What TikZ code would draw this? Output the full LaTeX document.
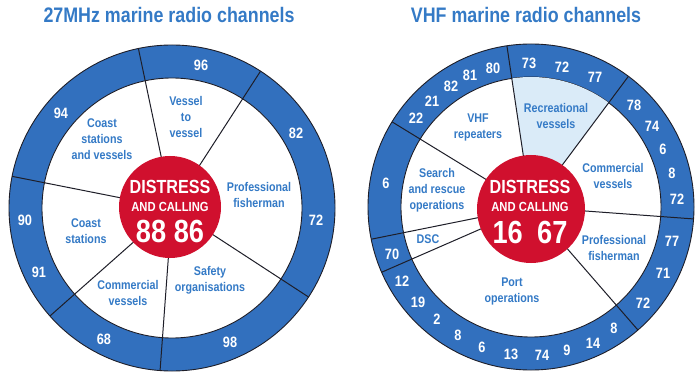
\documentclass[tikz,border=0pt]{standalone}
\usepackage{fontspec}
\newfontfamily\cf[FakeStretch=0.85]{Liberation Sans}
\definecolor{ringblue}{RGB}{50,112,190}
\definecolor{labblue}{RGB}{52,122,198}
\definecolor{dred}{RGB}{208,16,46}
\definecolor{lblue}{RGB}{218,235,248}
\definecolor{edgec}{RGB}{30,30,40}
\tikzset{
  ringnum/.style={font=\cf\bfseries\fontsize{15}{15}\selectfont, text=white, inner sep=0pt},
  lab/.style={font=\cf\bfseries\fontsize{12.6}{16}\selectfont, text=labblue, align=center, inner sep=0pt},
  ttl/.style={font=\cf\bfseries\fontsize{21}{22}\selectfont, text=labblue, inner sep=0pt},
  bigw/.style={text=white, inner sep=0pt},
  divider/.style={draw=edgec, line width=1pt},
  rim/.style={draw=edgec, line width=0.9pt}
}
\begin{document}
\begin{tikzpicture}[x=1pt,y=-1pt]
\useasboundingbox (0,0) rectangle (700,379);
\fill[white] (0,0) rectangle (700,379);

% ---------- titles
\node[ttl] (t1) at (169,15) {27MHz marine radio channels};
\node[ttl] (t2) at (526,15) {VHF marine radio channels};

% ---------- left wheel
\coordinate (L) at (172,208);
\fill[ringblue, rim] (L) circle[radius=163];
\fill[white, rim] (L) circle[radius=130];
\foreach \a in {101.9,57.1,-33.1,265.8,221.5,168.8}
  \draw[divider] (L) -- ++(-\a:163);
\fill[dred] (170,207) circle[radius=51];

\node[bigw, font=\cf\bfseries\fontsize{19}{19}\selectfont] (ld) at (170,187) {DISTRESS};
\node[bigw, font=\cf\bfseries\fontsize{13.2}{13}\selectfont] (lc) at (170,207) {AND CALLING};
\node[bigw, font=\cf\bfseries\fontsize{32}{32}\selectfont] (ln) at (170,231) {88 86};

\node[ringnum] (l96) at (201,65) {96};
\node[ringnum] (l94) at (61,113) {94};
\node[ringnum] (l82) at (296,133) {82};
\node[ringnum] (l72) at (316,220) {72};
\node[ringnum] (l90) at (25,220) {90};
\node[ringnum] (l91) at (39,272) {91};
\node[ringnum] (l68) at (104,339) {68};
\node[ringnum] (l98) at (230,342) {98};

\node[lab] (lvv) at (186,117) {Vessel\\to\\vessel};
\node[lab] (lcs) at (102,139) {Coast\\stations\\and vessels};
\node[lab] (lpf) at (259,195) {Professional\\fisherman};
\node[lab] (lco) at (86,231) {Coast\\stations};
\node[lab] (lcv) at (128,293) {Commercial\\vessels};
\node[lab] (lso) at (210,280) {Safety\\organisations};

% ---------- right wheel
\coordinate (R) at (531,207);
\fill[ringblue, rim] (R) circle[radius=163];
\fill[white, rim] (R) circle[radius=130];
\fill[lblue] plot[domain=53.3:98.5, samples=30] ({531+130*cos(\x)},{207-130*sin(\x)}) -- (R) -- cycle;
\foreach \a in {98.5,53.3,-4.2,-49,203.6,191.4,148.5}
  \draw[divider] (R) -- ++(-\a:163);
\fill[dred] (531,209) circle[radius=54];

\node[bigw, font=\cf\bfseries\fontsize{19}{19}\selectfont] (rd) at (530,187) {DISTRESS};
\node[bigw, font=\cf\bfseries\fontsize{13.2}{13}\selectfont] (rc) at (530,207) {AND CALLING};
\node[bigw, font=\cf\bfseries\fontsize{32}{32}\selectfont] (rn) at (530,232) {16\hspace{0.45em}67};

\node[ringnum] (r1) at (416,118) {22};
\node[ringnum] (r2) at (432,101) {21};
\node[ringnum] (r3) at (451,86) {82};
\node[ringnum] (r4) at (470,75) {81};
\node[ringnum] (r5) at (493,68) {80};
\node[ringnum] (r6) at (529,63) {73};
\node[ringnum] (r7) at (562,67) {72};
\node[ringnum] (r8) at (595,77) {77};
\node[ringnum] (r9) at (634,105) {78};
\node[ringnum] (r10) at (652,126) {74};
\node[ringnum] (r11) at (663,149) {6};
\node[ringnum] (r12) at (672,173) {8};
\node[ringnum] (r13) at (677,199) {72};
\node[ringnum] (r14) at (672,241) {77};
\node[ringnum] (r15) at (663,273) {71};
\node[ringnum] (r16) at (643,303) {72};
\node[ringnum] (r17) at (614,328) {8};
\node[ringnum] (r18) at (593,343) {14};
\node[ringnum] (r19) at (567,350) {9};
\node[ringnum] (r20) at (542,355) {74};
\node[ringnum] (r21) at (511,354) {13};
\node[ringnum] (r22) at (482,347) {6};
\node[ringnum] (r23) at (458,335) {8};
\node[ringnum] (r24) at (437,319) {2};
\node[ringnum] (r25) at (418,302) {19};
\node[ringnum] (r26) at (402,281) {12};
\node[ringnum] (r27) at (392,254) {70};
\node[ringnum] (r28) at (386,183) {6};

\node[lab] (rvr) at (478,127) {VHF\\repeaters};
\node[lab] (rrv) at (556,116) {Recreational\\vessels};
\node[lab] (rcv) at (613,176) {Commercial\\vessels};
\node[lab] (rsr) at (437,190) {Search\\and rescue\\operations};
\node[lab] (rds) at (428,239) {DSC};
\node[lab] (rpf) at (614,248) {Professional\\fisherman};
\node[lab] (rpo) at (512,291) {Port\\operations};
\end{tikzpicture}
\end{document}
